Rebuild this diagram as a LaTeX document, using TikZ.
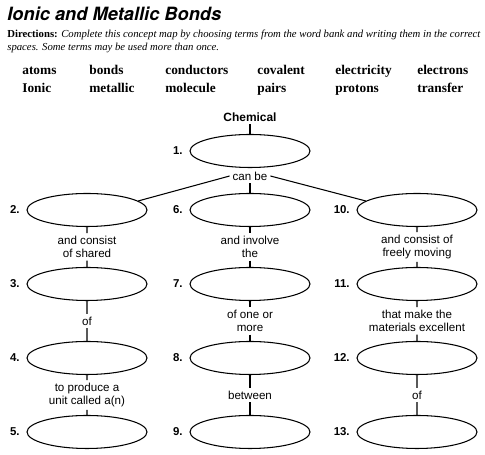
\documentclass[tikz,border=0pt]{standalone}
\usepackage{fontspec}
\setmainfont{Liberation Serif}
\setsansfont{Liberation Sans}
\newfontfamily\headfont{TeX Gyre Heros}
\usetikzlibrary{positioning,shapes.geometric,calc}
\tikzset{
  blank/.style={draw,ellipse,minimum width=2.4cm,minimum height=0.66cm,inner sep=0pt,line width=0.6pt},
  num/.style={font=\sffamily\bfseries\fontsize{6.5}{7.5}\selectfont,inner sep=0pt},
  link/.style={font=\sffamily\fontsize{6.6}{7.4}\selectfont,align=center,inner sep=1.5pt},
  bank/.style={font=\bfseries\fontsize{7.6}{9}\selectfont,anchor=base west,inner sep=0pt},
  tie/.style={line width=0.6pt},
}

\begin{document}
\begin{tikzpicture}[x=0.02cm,y=-0.02cm]
\useasboundingbox (0,0) rectangle (485,455);
\node[anchor=west,inner sep=0pt,font=\headfont\bfseries\itshape\fontsize{10.4}{12}\selectfont] (title) at (7,14) {Ionic and Metallic Bonds};
\node[anchor=north west,inner sep=0pt,align=left,font=\fontsize{6.1}{7.4}\selectfont] (dir) at (7,30) {\textbf{Directions:} \textit{Complete this concept map by choosing terms from the word bank and writing them in the correct}\\\textit{spaces. Some terms may be used more than once.}};
\foreach \x/\a/\b [count=\i] in {22/atoms/Ionic,89/bonds/metallic,165/conductors/molecule,257/covalent/pairs,335/electricity/protons,417/electrons/transfer}{
  \node[bank] (wa\i) at (\x,75) {\a};
  \node[bank] (wb\i) at (\x,93) {\b};
}
\node[link,font=\sffamily\bfseries\fontsize{6.8}{8}\selectfont] (chem) at (250,117) {Chemical};
\node[blank] (e1) at (250,151) {};
\node[num,anchor=east,left=0.13cm of e1] (n1) {1.};
\foreach \x [count=\c from 0] in {87,250,417}{
  \foreach \y [count=\r from 0] in {210,284,358,432}{
    \pgfmathtruncatemacro\n{2+4*\c+\r}
    \node[blank] (e\n) at (\x,\y) {};
    \node[num,left=0.13cm of e\n] (n\n) {\n.};
  }
}
\node[link] (canbe) at (250,176) {can be};
\draw[tie] (chem.south) -- (e1.north);
\draw[tie] (canbe.south) -- (e6.north);
\draw[tie] (canbe.west) -- (e2.10);
\draw[tie] (canbe.east) -- (e10.170);
\foreach \a/\b/\t in {2/3/{and consist\\of shared},3/4/of,4/5/{to produce a\\unit called a(n)},6/7/{and involve\\the},7/8/{of one or\\more},8/9/between,10/11/{and consist of\\freely moving},11/12/{that make the\\materials excellent},12/13/of}{
  \node[link] (k\a) at ($(e\a.south)!0.5!(e\b.north)$) {\t};
  \draw[tie] (e\a.south) -- (k\a.north);
  \draw[tie] (k\a.south) -- (e\b.north);
}
\end{tikzpicture}
\end{document}
